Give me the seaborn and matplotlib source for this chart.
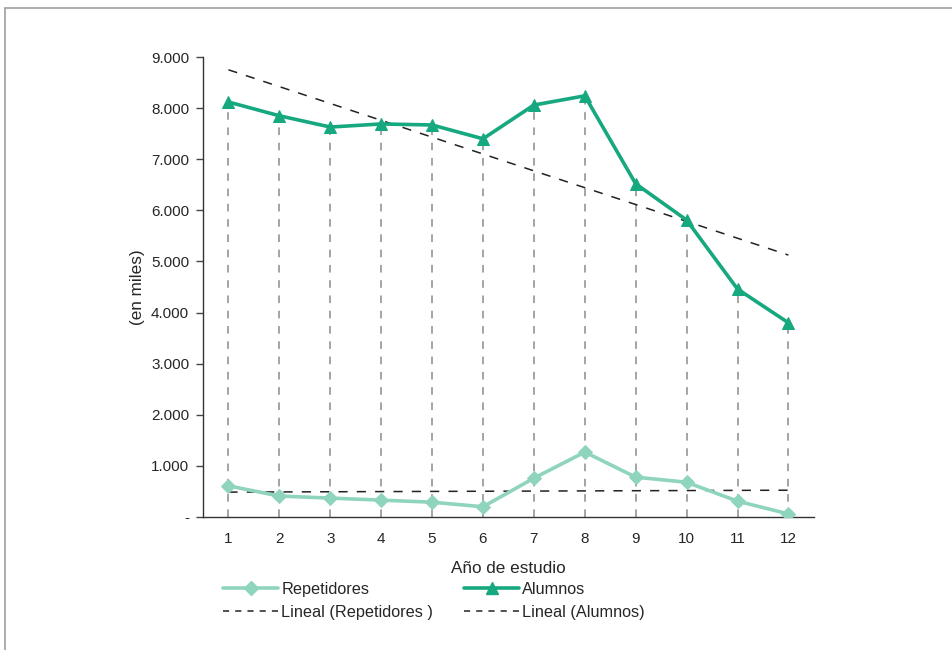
import numpy as np
import pandas as pd
import matplotlib
matplotlib.use("Agg")
import matplotlib.pyplot as plt
import seaborn as sns
from matplotlib.lines import Line2D
from matplotlib.ticker import FuncFormatter

anios = [1, 2, 3, 4, 5, 6, 7, 8, 9, 10, 11, 12]
alumnos = [8120, 7850, 7630, 7690, 7670, 7400, 8060, 8240, 6520, 5810, 4460, 3800]
repetidores = [610, 410, 370, 330, 290, 200, 760, 1270, 780, 680, 310, 60]
y_ticks = [0, 1000, 2000, 3000, 4000, 5000, 6000, 7000, 8000, 9000]

sns.set_style("white")
plt.rcParams['font.family'] = ['Liberation Sans', 'DejaVu Sans']

c_alu = "#16a87f"
c_rep = "#8fd5bd"
txt = "#262626"

fig = plt.figure(figsize=(9.53, 6.5), dpi=100)
ax = fig.add_axes([0.213, 0.2046, 0.641, 0.7077])

df = pd.DataFrame({"anio": anios, "Alumnos": alumnos, "Repetidores": repetidores})

# drop lines from Alumnos points
ax.vlines(df["anio"], 0, df["Alumnos"], colors="#8c8c8c", linestyles=(0, (5, 5)), linewidth=1.1, zorder=1)

# trend lines
sns.regplot(data=df, x="anio", y="Repetidores", scatter=False, ci=None, ax=ax,
            line_kws=dict(color="#222222", linestyle=(0, (6, 6)), linewidth=1.1, zorder=2))
sns.regplot(data=df, x="anio", y="Alumnos", scatter=False, ci=None, ax=ax,
            line_kws=dict(color="#222222", linestyle=(0, (6, 6)), linewidth=1.1, zorder=2))

sns.lineplot(data=df, x="anio", y="Repetidores", color=c_rep, marker="D", markersize=7,
             markeredgecolor=c_rep, linewidth=2.6, ax=ax, zorder=3)
sns.lineplot(data=df, x="anio", y="Alumnos", color=c_alu, marker="^", markersize=8,
             markeredgecolor=c_alu, linewidth=2.6, ax=ax, zorder=4)

ax.set_xlim(0.5, 12.5)
ax.set_ylim(0, 9000)
ax.set_yticks(y_ticks)
ax.yaxis.set_major_formatter(FuncFormatter(lambda v, p: "-" if v == 0 else f"{int(v):,}".replace(",", ".")))
ax.set_xticks(anios)
ax.set_xticks(np.arange(0.5, 13, 1), minor=True)
ax.tick_params(axis="x", which="major", length=0, pad=10.5, labelsize=11, labelcolor=txt)
ax.tick_params(axis="x", which="minor", length=5, width=1, color="#444444", direction="out")
ax.tick_params(axis="y", which="major", length=5, width=1, color="#444444", direction="out",
               labelsize=11, labelcolor=txt, pad=5, left=True)
for s in ["top", "right"]:
    ax.spines[s].set_visible(False)
for s in ["left", "bottom"]:
    ax.spines[s].set_color("#333333")
    ax.spines[s].set_linewidth(1.0)

ax.set_xlabel("Año de estudio", fontsize=12.3, color=txt, labelpad=11)
ax.set_ylabel("(en miles)", fontsize=12.3, color=txt, labelpad=4)

handles = [
    Line2D([], [], color=c_rep, marker="D", markersize=7, linewidth=2.6),
    Line2D([], [], color="#222222", linestyle=(0, (4, 4)), linewidth=1.1),
    Line2D([], [], color=c_alu, marker="^", markersize=8, linewidth=2.6),
    Line2D([], [], color="#222222", linestyle=(0, (4, 4)), linewidth=1.1),
]
labels = ["Repetidores", "Lineal (Repetidores )", "Alumnos", "Lineal (Alumnos)"]
fig.legend(handles, labels, ncol=2, loc="upper left", bbox_to_anchor=(0.2255, 0.117),
           frameon=False, fontsize=11.7, handlelength=3.4, handletextpad=0.18,
           columnspacing=1.9, labelspacing=0.48, borderpad=0, labelcolor=txt)

# outer frame (left and top edges)
fig.add_artist(Line2D([0.0055, 0.0055], [0.0, 0.988], color="#a0a0a0", linewidth=1.2, transform=fig.transFigure))
fig.add_artist(Line2D([0.0055, 1.0], [0.988, 0.988], color="#a0a0a0", linewidth=1.2, transform=fig.transFigure))

fig.savefig("out.png", dpi=100)
